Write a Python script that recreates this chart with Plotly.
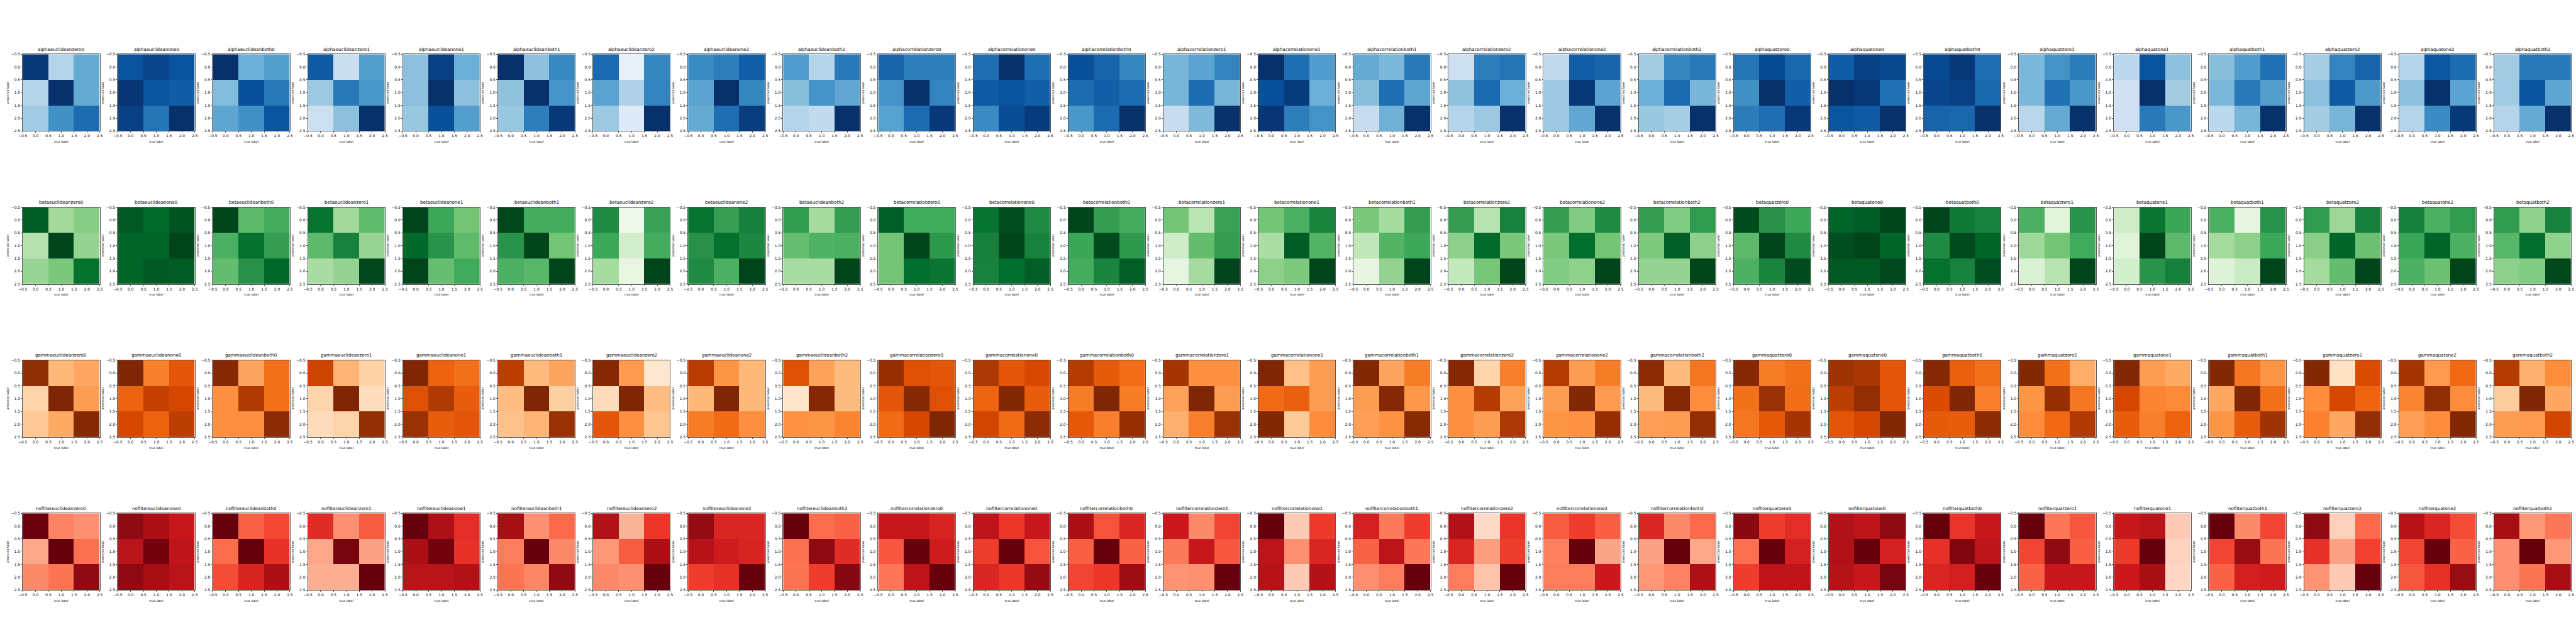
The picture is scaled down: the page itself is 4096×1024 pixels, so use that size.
import plotly.graph_objects as go

# Cell colours as fractions of each panel's colour map; one 3x3 matrix per panel (row 0 at the top).
alpha_cells = [
 [[.97,.31,.52],[.30,1,.52],[.37,.63,.77]], [[.87,.92,.87],[.98,.86,.83],[.94,.74,1]], [[1,.50,.57],[.44,.88,.72],[.54,.63,.86]],
 [[.84,.23,.57],[.38,.72,.60],[.22,.42,1]], [[.42,.94,.50],[.42,1,.42],[.39,.88,.57]], [[1,.42,.66],[.41,1,.61],[.39,.70,.97]],
 [[.78,.08,.67],[.55,.32,.68],[.38,.13,1]], [[.65,.70,.82],[.55,1,.67],[.52,.76,.95]], [[.58,.30,.72],[.43,.62,.53],[.30,.26,1]],
 [[.80,.70,.70],[.62,1,.68],[.56,.77,.97]], [[.76,1,.76],[.84,.87,.82],[.65,.89,.96]], [[.88,.80,.67],[.77,.82,.77],[.60,.77,1]],
 [[.47,.55,.68],[.47,.77,.47],[.24,.45,1]], [[1,.76,.58],[.88,.96,.50],[.98,.70,.62]], [[.52,.46,.72],[.43,.76,.54],[.24,.49,1]],
 [[.22,.70,.74],[.41,.78,.50],[.30,.38,1]], [[.26,.82,.80],[.38,.97,.55],[.38,.53,1]], [[.36,.67,.72],[.50,.78,.47],[.39,.35,1]],
 [[.74,.90,.79],[.63,1,.82],[.71,.76,.97]], [[.83,.94,.91],[1,.97,.75],[.86,.84,1]], [[.90,.97,.76],[.92,.94,.79],[.80,.79,1]],
 [[.46,.62,.71],[.46,.75,.60],[.29,.52,1]], [[.28,.87,.42],[.20,1,.36],[.21,.72,.60]], [[.43,.58,.75],[.46,.72,.57],[.28,.47,1]],
 [[.35,.68,.80],[.42,.84,.59],[.36,.47,1]], [[.30,.85,.77],[.42,1,.55],[.30,.65,.97]], [[.36,.72,.72],[.37,.87,.54],[.30,.52,1]],
]
beta_cells = [
 [[.93,.37,.45],[.31,1,.41],[.40,.48,.86]], [[.94,.88,.95],[.90,.90,1],[.90,.94,.93]], [[1,.56,.62],[.60,.86,.68],[.54,.73,.89]],
 [[.85,.37,.55],[.56,.79,.40],[.35,.41,.99]], [[1,.64,.50],[.89,.72,.55],[1,.53,.63]], [[.99,.62,.62],[.72,1,.50],[.60,.57,1]],
 [[.76,.06,.66],[.64,.20,.62],[.36,.10,1]], [[.85,.67,.80],[.73,.86,.77],[.76,.60,1]], [[.69,.36,.68],[.53,.59,.60],[.35,.35,1]],
 [[.92,.63,.63],[.50,1,.70],[.50,.87,.84]], [[.85,.97,.76],[.80,1,.79],[.79,.87,.92]], [[1,.68,.62],[.65,.98,.70],[.62,.78,.92]],
 [[.50,.29,.66],[.22,.54,.68],[.12,.36,1]], [[.50,.60,.78],[.34,.93,.58],[.43,.47,1]], [[.48,.36,.68],[.27,.58,.64],[.11,.41,1]],
 [[.68,.30,.79],[.43,.88,.48],[.26,.49,1]], [[.68,.46,.76],[.48,.87,.50],[.46,.42,1]], [[.68,.46,.69],[.47,.92,.43],[.41,.41,1]],
 [[.98,.73,.64],[.56,1,.76],[.60,.78,.98]], [[.90,.93,1],[.97,1,.90],[.94,.94,.99]], [[1,.82,.79],[.76,.98,.90],[.86,.79,.97]],
 [[.60,.14,.72],[.38,.50,.63],[.17,.30,1]], [[.22,.84,.65],[.15,1,.56],[.20,.72,.80]], [[.60,.12,.72],[.36,.43,.64],[.16,.24,1]],
 [[.69,.39,.80],[.44,.90,.52],[.36,.54,1]], [[.80,.60,.69],[.65,.90,.60],[.60,.52,1]], [[.69,.42,.79],[.57,.87,.42],[.43,.46,.99]],
]
gamma_cells = [
 [[.95,.34,.40],[.23,1,.44],[.28,.39,.98]], [[1,.55,.70],[.65,.80,.76],[.76,.65,.82]], [[.98,.41,.60],[.49,.85,.60],[.49,.49,.96]],
 [[.78,.35,.24],[.22,1,.17],[.18,.23,.94]], [[1,.65,.60],[.72,.85,.67],[.92,.67,.70]], [[.82,.33,.41],[.32,1,.25],[.30,.35,.92]],
 [[.98,.45,.12],[.18,1,.32],[.70,.49,.29]], [[.83,.47,.34],[.34,1,.34],[.56,.62,.49]], [[.72,.42,.33],[.13,.98,.33],[.48,.47,.53]],
 [[.93,.72,.70],[.70,.98,.72],[.62,.76,1]], [[.86,.70,.75],[.64,.99,.67],[.77,.62,.96]], [[.84,.68,.61],[.56,1,.56],[.69,.55,.93]],
 [[.88,.49,.49],[.42,1,.44],[.37,.55,.92]], [[1,.31,.44],[.62,.66,.44],[.99,.27,.50]], [[.99,.41,.56],[.44,.98,.46],[.43,.48,.97]],
 [[.98,.22,.55],[.49,.84,.42],[.49,.44,.86]], [[.84,.44,.56],[.44,.99,.45],[.47,.48,.93]], [[.96,.33,.58],[.33,.98,.50],[.43,.44,.94]],
 [[.98,.56,.60],[.60,.92,.61],[.58,.69,.88]], [[.90,.87,.70],[.82,.94,.70],[.70,.76,.99]], [[.98,.66,.60],[.74,1,.55],[.68,.67,.96]],
 [[.99,.60,.38],[.47,.93,.58],[.50,.63,.85]], [[.99,.44,.39],[.76,.53,.51],[.67,.55,.65]], [[.99,.58,.47],[.40,1,.60],[.47,.67,.90]],
 [[.99,.15,.74],[.50,.76,.64],[.54,.40,.94]], [[.88,.45,.63],[.53,.95,.50],[.43,.50,.99]], [[.84,.37,.50],[.26,1,.40],[.44,.45,.77]],
]
nofilter_cells = [
 [[.99,.42,.38],[.31,1,.48],[.40,.47,.92]], [[.92,.86,.76],[.81,.98,.79],[.92,.87,.81]], [[1,.52,.59],[.49,1,.66],[.58,.71,.86]],
 [[.68,.38,.54],[.31,.97,.33],[.29,.29,1]], [[1,.85,.67],[.86,.98,.66],[.81,.81,.84]], [[.87,.38,.50],[.44,1,.40],[.47,.41,.92]],
 [[.84,.27,.64],[.36,.54,.86],[.40,.38,1]], [[.91,.70,.70],[.82,.74,.71],[.62,.66,1]], [[1,.49,.52],[.48,.92,.68],[.47,.62,.94]],
 [[.77,.77,.71],[.55,1,.74],[.46,.80,1]], [[.80,.64,.76],[.62,1,.56],[.70,.64,.91]], [[.86,.56,.70],[.53,1,.52],[.60,.64,.89]],
 [[.75,.40,.60],[.45,.76,.55],[.37,.38,1]], [[1,.20,.63],[.80,.38,.70],[.82,.20,.83]], [[.72,.45,.62],[.52,.80,.46],[.38,.44,1]],
 [[.84,.15,.65],[.70,.34,.62],[.44,.22,1]], [[.54,.62,.53],[.43,1,.32],[.44,.44,.75]], [[.70,.40,.50],[.33,1,.31],[.36,.42,.85]],
 [[.93,.62,.67],[.48,1,.72],[.62,.79,.79]], [[.84,.80,.92],[.84,1,.72],[.82,.77,.97]], [[1,.65,.76],[.66,.95,.80],[.70,.73,1]],
 [[1,.46,.55],[.60,.92,.53],[.52,.76,.76]], [[.76,.81,.20],[.63,1,.17],[.75,.87,.16]], [[1,.40,.60],[.60,.90,.47],[.52,.73,.74]],
 [[.92,.18,.50],[.66,.33,.61],[.37,.20,1]], [[.82,.70,.58],[.60,1,.52],[.55,.66,.90]], [[.87,.36,.46],[.38,1,.36],[.38,.47,.87]],
]

prefixes = ["alpha", "beta", "gamma", "nofilter"]
metrics = ["euclidean", "correlation", "quat"]
seeds = ["0", "1", "2"]
inits = ["zero", "one", "both"]
class_positions = [0, 1, 2]
x_label = "true label"
y_label = "predicted label"

blues = ["#f7fbff","#deebf7","#c6dbef","#9ecae1","#6baed6","#4292c6","#2171b5","#08519c","#08306b"]
greens = ["#f7fcf5","#e5f5e0","#c7e9c0","#a1d99b","#74c476","#41ab5d","#238b45","#006d2c","#00441b"]
oranges = ["#fff5eb","#fee6ce","#fdd0a2","#fdae6b","#fd8d3c","#f16913","#d94801","#a63603","#7f2704"]
reds = ["#fff5f0","#fee0d2","#fcbba1","#fc9272","#fb6a4a","#ef3b2c","#cb181d","#a50f15","#67000d"]

W, H = 4096, 1024
S = 4096 / 6912
FONT = "DejaVu Sans"
LEFT0, STEP_X, PANEL = 49.3 * S, 255.8 * S, 207.3 * S
TOP0, STEP_Y = 141.3 * S, 413.0 * S

rows = [(alpha_cells, blues), (beta_cells, greens), (gamma_cells, oranges), (nofilter_cells, reds)]
names = [m + i + s for m in metrics for s in seeds for i in inits]

fig = go.Figure()
annotations = []
layout_axes = {}
n = 0
for r, (cells, cmap) in enumerate(rows):
    scale = [[k / (len(cmap) - 1), c] for k, c in enumerate(cmap)]
    for c, z in enumerate(cells):
        n += 1
        xa, ya = f"xaxis{n}", f"yaxis{n}"
        left = LEFT0 + c * STEP_X
        top = TOP0 + r * STEP_Y
        dom_x = [left / W, (left + PANEL) / W]
        dom_y = [1 - (top + PANEL) / H, 1 - top / H]
        fig.add_trace(go.Heatmap(z=z, x=class_positions, y=class_positions, zmin=0, zmax=1,
                                 colorscale=scale, showscale=False, xaxis=f"x{n}", yaxis=f"y{n}"))
        common = dict(showgrid=False, zeroline=False, showline=True, mirror=True, linecolor="#555555",
                      linewidth=0.5, ticks="outside", ticklen=2.1, tickwidth=0.5, tickcolor="#555555",
                      tick0=-0.5, dtick=0.5, tickformat=".1f", tickangle=0,
                      tickfont=dict(family=FONT, size=10 * S, color="#000000"))
        layout_axes[xa] = dict(domain=dom_x, range=[-0.5, 2.5], anchor=f"y{n}",
                               title=dict(text=x_label, standoff=5, font=dict(family=FONT, size=8 * S, color="#000000")),
                               **common)
        layout_axes[ya] = dict(domain=dom_y, range=[2.5, -0.5], anchor=f"x{n}",
                               title=dict(text=y_label, standoff=3, font=dict(family=FONT, size=8 * S, color="#000000")),
                               **common)
        annotations.append(dict(text=prefixes[r] + names[c], xref="paper", yref="paper",
                                x=(left + PANEL / 2) / W, y=dom_y[1], xanchor="center", yanchor="bottom",
                                yshift=1.5, showarrow=False, font=dict(family=FONT, size=12 * S, color="#000000")))

fig.update_layout(width=W, height=H, margin=dict(l=0, r=0, t=0, b=0), paper_bgcolor="#ffffff",
                  plot_bgcolor="#ffffff", autosize=False, showlegend=False, annotations=annotations, **layout_axes)
fig.write_html("out.html", config={"displayModeBar": False},
               post_script="document.body.style.margin='0';document.documentElement.style.overflow='hidden';")
